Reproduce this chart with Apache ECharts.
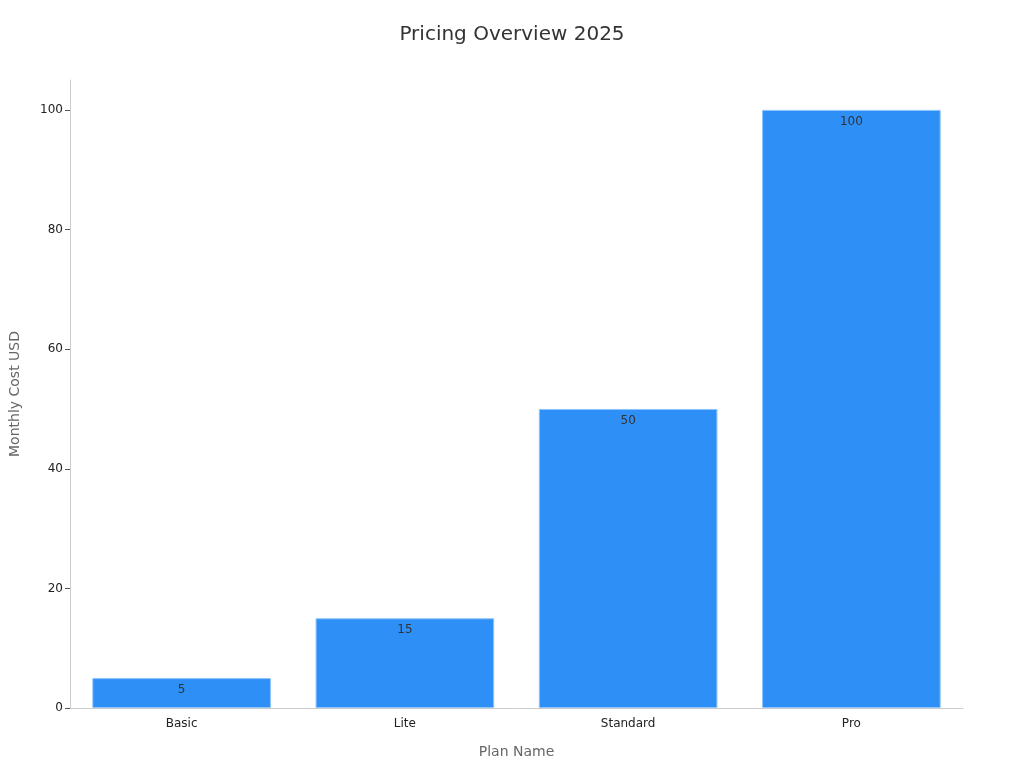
<!DOCTYPE html>
<html>
<head>
<meta charset="utf-8">
<script src="https://cdn.jsdelivr.net/npm/echarts@6/dist/echarts.min.js"></script>
<style>html,body{margin:0;padding:0;background:#fff}#c{width:1024px;height:768px}</style>
</head>
<body>
<div id="c"></div>
<script>
const plans = ["Basic", "Lite", "Standard", "Pro"];
const monthlyCost = [5, 15, 50, 100];
const yTicks = [0, 20, 40, 60, 80, 100];

const chart = echarts.init(document.getElementById("c"), null, { renderer: "canvas" });
const font = "DejaVu Sans";
chart.setOption({
  backgroundColor: "#fff",
  animation: false,
  textStyle: { fontFamily: font },
  title: {
    text: "Pricing Overview 2025", left: "center", top: 20,
    textStyle: { fontFamily: font, fontSize: 20, fontWeight: "normal", color: "#333" }
  },
  grid: { left: 67, right: 61, top: 80, bottom: 60 },
  xAxis: {
    type: "category", data: plans,
    name: "Plan Name", nameLocation: "middle", nameGap: 37,
    nameTextStyle: { fontFamily: font, fontSize: 14, color: "#666" },
    axisLine: { lineStyle: { color: "#ccc" } },
    axisTick: { alignWithLabel: true, length: 5, lineStyle: { color: "#555" } },
    axisLabel: { fontFamily: font, fontSize: 12, color: "#222", margin: 10 }
  },
  yAxis: {
    type: "value", min: 0, max: 105,
    name: "Monthly Cost USD", nameLocation: "middle", nameGap: 48, nameRotate: 90,
    nameTextStyle: { fontFamily: font, fontSize: 14, color: "#666" },
    splitLine: { show: false },
    axisLine: { show: true, lineStyle: { color: "#ccc" } },
    axisTick: { show: true, length: 5, customValues: yTicks, lineStyle: { color: "#555" } },
    axisLabel: { fontFamily: font, fontSize: 12, color: "#222", margin: 7, customValues: yTicks }
  },
  series: [{
    type: "bar", data: monthlyCost, barWidth: "80%",
    itemStyle: { color: "#2e90f6", borderColor: "#8cc4fb", borderWidth: 1 },
    label: { show: true, position: "insideTop", distance: 6, fontFamily: font, fontSize: 12, color: "#333" }
  }]
});
</script>
</body>
</html>
